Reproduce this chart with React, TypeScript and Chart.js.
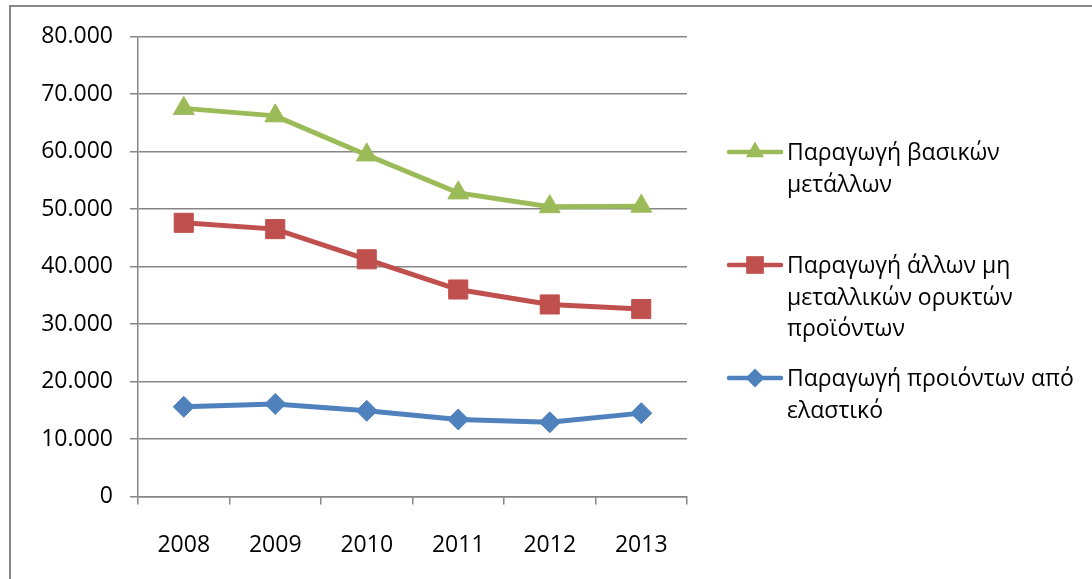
import React, { useEffect, useRef } from 'react';
import { Chart, registerables } from 'chart.js';

Chart.register(...registerables);

const categories = ['2008', '2009', '2010', '2011', '2012', '2013'];
const basicMetals = [67500, 66200, 59400, 52800, 50400, 50500];
const nonMetallicMinerals = [47600, 46500, 41250, 36000, 33400, 32600];
const rubberProducts = [15600, 16100, 14900, 13400, 12900, 14500];
const yTickLabels = ['0', '10.000', '20.000', '30.000', '40.000', '50.000', '60.000', '70.000', '80.000'];
const seriesLabels = [
  ['Παραγωγή βασικών', 'μετάλλων'],
  ['Παραγωγή άλλων μη', 'μεταλλικών ορυκτών', 'προϊόντων'],
  ['Παραγωγή προιόντων από', 'ελαστικό'],
];

const GREEN = '#9BBB59';
const RED = '#C0504D';
const BLUE = '#4F81BD';
const GRID = '#868686';
const FONT = '"Open Sans", sans-serif';

function drawMarker(ctx: CanvasRenderingContext2D, style: string, x: number, y: number, r: number) {
  ctx.beginPath();
  if (style === 'triangle') {
    let rad = 0;
    ctx.moveTo(x + Math.sin(rad) * r, y - Math.cos(rad) * r);
    rad += (2 * Math.PI) / 3;
    ctx.lineTo(x + Math.sin(rad) * r, y - Math.cos(rad) * r);
    rad += (2 * Math.PI) / 3;
    ctx.lineTo(x + Math.sin(rad) * r, y - Math.cos(rad) * r);
    ctx.closePath();
  } else if (style === 'rect') {
    const s = Math.SQRT1_2 * r;
    ctx.rect(x - s, y - s, 2 * s, 2 * s);
  } else {
    ctx.moveTo(x - r, y);
    ctx.lineTo(x, y - r);
    ctx.lineTo(x + r, y);
    ctx.lineTo(x, y + r);
    ctx.closePath();
  }
  ctx.fill();
}

const legendMarkerRadius = [10.5, 12.5, 9.5];

const legendPlugin = {
  id: 'excelLegend',
  afterDraw(chart: any) {
    const ctx: CanvasRenderingContext2D = chart.ctx;
    ctx.save();
    chart.data.datasets.forEach((ds: any, i: number) => {
      const y = 152 + i * 113;
      ctx.strokeStyle = ds.borderColor;
      ctx.lineWidth = 4.5;
      ctx.lineCap = 'round';
      ctx.beginPath();
      ctx.moveTo(729, y);
      ctx.lineTo(781, y);
      ctx.stroke();
      ctx.fillStyle = ds.borderColor;
      drawMarker(ctx, ds.pointStyle, 755, y, legendMarkerRadius[i]);
      ctx.fillStyle = '#000';
      ctx.font = '23px ' + FONT;
      ctx.textBaseline = 'middle';
      ctx.textAlign = 'left';
      seriesLabels[i].forEach((line, j) => ctx.fillText(line, 787, y + 1.5 + j * 31.5));
    });
    ctx.restore();
  },
};

export default function App() {
  const canvasRef = useRef<HTMLCanvasElement | null>(null);

  useEffect(() => {
    if (!canvasRef.current) return;
    const chart = new Chart(canvasRef.current, {
      type: 'line',
      data: {
        labels: categories,
        datasets: [
          {
            label: seriesLabels[0].join(' '),
            data: basicMetals,
            borderColor: GREEN,
            backgroundColor: GREEN,
            pointBackgroundColor: GREEN,
            pointBorderColor: GREEN,
            pointStyle: 'triangle',
            pointRadius: 12,
            pointBorderWidth: 1,
            borderWidth: 5,
            tension: 0,
          },
          {
            label: seriesLabels[1].join(' '),
            data: nonMetallicMinerals,
            borderColor: RED,
            backgroundColor: RED,
            pointBackgroundColor: RED,
            pointBorderColor: RED,
            pointStyle: 'rect',
            pointRadius: 13.5,
            pointBorderWidth: 1,
            borderWidth: 5,
            tension: 0,
          },
          {
            label: seriesLabels[2].join(' '),
            data: rubberProducts,
            borderColor: BLUE,
            backgroundColor: BLUE,
            pointBackgroundColor: BLUE,
            pointBorderColor: BLUE,
            pointStyle: 'rectRot',
            pointRadius: 10.5,
            pointBorderWidth: 1,
            borderWidth: 5,
            tension: 0,
          },
        ],
      },
      options: {
        responsive: false,
        animation: false,
        layout: { padding: { top: 36.5, right: 405, bottom: 0, left: 0 } },
        plugins: {
          legend: { display: false },
          tooltip: { enabled: false },
        },
        scales: {
          x: {
            offset: true,
            grid: {
              offset: true,
              drawOnChartArea: false,
              drawTicks: true,
              tickLength: 8,
              color: GRID,
              lineWidth: 1.5,
            },
            border: { display: true, color: GRID, width: 1.5 },
            ticks: {
              color: '#000',
              font: { family: FONT, size: 23 },
              padding: 27,
              maxRotation: 0,
            },
            afterFit: (scale: any) => {
              scale.height = 82.5;
            },
          },
          y: {
            min: 0,
            max: 80000,
            ticks: {
              stepSize: 10000,
              color: '#000',
              font: { family: FONT, size: 23 },
              padding: 17,
              callback: (_v: any, idx: number) => yTickLabels[idx],
            },
            grid: {
              color: GRID,
              lineWidth: 1.5,
              tickLength: 8,
              drawTicks: true,
            },
            border: { display: true, color: GRID, width: 1.5 },
            afterFit: (scale: any) => {
              scale.width = 138;
            },
          },
        },
      },
      plugins: [legendPlugin],
    });
    return () => chart.destroy();
  }, []);

  return (
    <div style={{ position: 'fixed', left: 0, top: 0, width: 1092, height: 579, background: '#fff', overflow: 'hidden' }}>
      <div
        style={{
          position: 'absolute',
          left: 9,
          top: 5,
          width: 1200,
          height: 700,
          borderLeft: '2px solid #868686',
          borderTop: '2px solid #868686',
        }}
      />
      <canvas ref={canvasRef} width={1092} height={579} style={{ position: 'absolute', left: 0, top: 0 }} />
    </div>
  );
}
